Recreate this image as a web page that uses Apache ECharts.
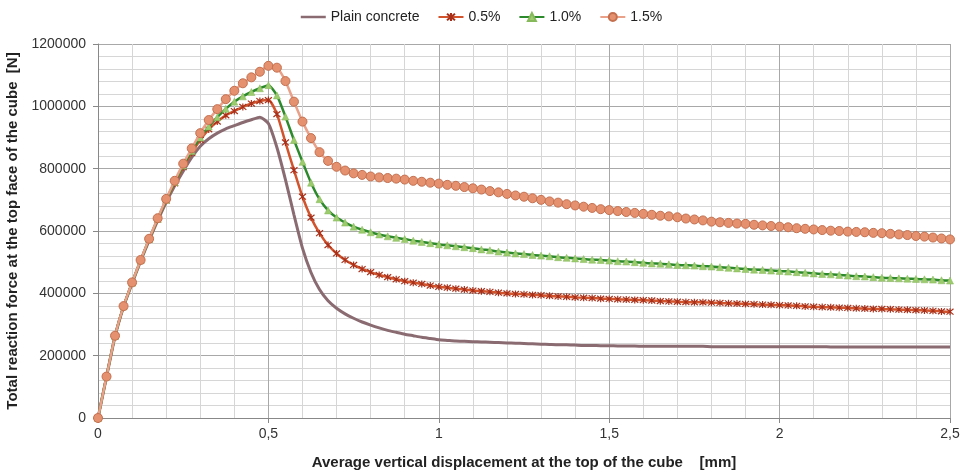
<!DOCTYPE html>
<html><head><meta charset="utf-8">
<script src="https://cdn.jsdelivr.net/npm/echarts@6/dist/echarts.min.js"></script>
<style>html,body{margin:0;padding:0;background:#fff}#c{width:963px;height:473px}</style>
</head><body><div id="c"></div>
<script>
// displacement grid, mm (sample every 0.025 mm)
const displacement = Array.from({length: 101}, (_, i) => +(i * 0.025).toFixed(3));
const seriesNames = ['Plain concrete', '0.5%', '1.0%', '1.5%'];
const xTicks = [0, 0.5, 1, 1.5, 2, 2.5];
const yTicks = [0, 200000, 400000, 600000, 800000, 1000000, 1200000];
// reaction force, kN
const plainKN = [0,132,262,357,432,503,570,633,692,745,792,836,872,896,914,928,938,948,957,965,
 945,868,765,652,545,467,412,376,352,334,320,308,298,289,281,275,269,264,259,255,
 251,249,247,246,245,244,243,242,241,240,239,238,237,236,235,235,234,233,233,232,
 232,231,231,231,230,230,230,230,230,230,230,230,229,229,229,229,229,229,229,229,
 229,229,229,229,229,229,228,228,228,228,228,228,228,228,228,228,228,228,228,228,228];
const p05KN = [0,133,263,358,434,505,573,637,698,753,805,851,892,926,951,971,985,998,1009,1017,
 1020,975,884,795,710,643,593,555,528,507,491,478,468,459,452,445,439,434,430,425,
 421,418,415,412,409,407,405,402,400,398,397,395,394,392,390,389,387,386,385,383,
 382,381,380,379,378,377,375,374,373,372,371,371,370,369,368,367,366,365,364,363,
 362,361,360,358,357,356,355,354,353,352,351,350,350,349,348,347,346,345,344,342,341];
const p10KN = [0,133,263,358,434,506,574,639,700,757,810,857,900,935,965,992,1015,1032,1046,1058,
 1068,1035,967,892,822,755,702,666,643,627,614,604,596,589,583,578,574,569,565,561,
 557,554,551,548,545,541,538,534,531,528,526,523,521,519,516,514,512,510,508,507,
 505,503,502,500,498,496,495,493,491,490,489,487,486,484,482,480,478,476,475,473,
 472,470,468,466,464,462,461,459,457,455,454,452,450,449,448,447,446,445,444,442,441];
const p15KN = [0,133,264,359,435,507,575,641,703,761,816,865,914,956,991,1023,1050,1074,1093,1111,
 1130,1124,1081,1015,951,898,853,825,806,794,785,780,775,772,770,768,765,761,758,755,
 752,748,745,741,737,733,728,724,719,714,710,705,700,695,691,686,682,678,674,670,
 667,664,661,658,655,652,649,647,644,640,637,634,630,628,626,624,623,620,618,616,
 614,612,609,607,605,603,601,600,598,597,596,594,593,591,589,587,584,582,579,576,573];

const toPairs = arr => arr.map((v, i) => [displacement[i], v * 1000]);
const font = 'Liberation Sans, Arial, sans-serif';

const chart = echarts.init(document.getElementById('c'), null, {renderer: 'canvas'});
chart.setOption({
  animation: false,
  backgroundColor: '#ffffff',
  textStyle: {fontFamily: font},
  legend: {
    top: 5, left: 'center', itemGap: 18, itemWidth: 25, itemHeight: 10,
    textStyle: {fontFamily: font, fontSize: 14, color: '#222'},
    data: [
      {name: seriesNames[0], icon: 'path://M0,0L30,0L30,3L0,3Z', itemStyle: {color: '#8a6b72'}},
      seriesNames[1], seriesNames[2], seriesNames[3]
    ]
  },
  grid: {left: 98, right: 13, top: 44, bottom: 55, containLabel: false, outerBoundsMode: 'none'},
  xAxis: {
    type: 'value', min: 0, max: 2.5, interval: 0.5,
    name: 'Average vertical displacement at the top of the cube    [mm]',
    nameLocation: 'middle', nameGap: 37,
    nameTextStyle: {fontFamily: font, fontSize: 15, fontWeight: 'bold', color: '#222'},
    axisLine: {show: true, lineStyle: {color: '#888', width: 1}},
    axisTick: {show: true, length: 5, lineStyle: {color: '#888'}},
    axisLabel: {fontFamily: font, fontSize: 14, color: '#333', margin: 9,
      formatter: v => xTicks.includes(v) ? String(v).replace('.', ',') : ''},
    splitLine: {show: true, lineStyle: {color: '#a8a8a8', width: 1}},
    minorTick: {show: false, splitNumber: 5},
    minorSplitLine: {show: true, lineStyle: {color: '#d6d6d6', width: 1}}
  },
  yAxis: {
    type: 'value', min: 0, max: 1200000, interval: 200000,
    name: 'Total reaction force at the top face of the cube  [N]',
    nameLocation: 'middle', nameGap: 69,
    nameTextStyle: {fontFamily: font, fontSize: 15, fontWeight: 'bold', color: '#222'},
    axisLine: {show: true, lineStyle: {color: '#888', width: 1}},
    axisTick: {show: true, length: 5, lineStyle: {color: '#888'}},
    axisLabel: {fontFamily: font, fontSize: 14, color: '#333', margin: 12,
      formatter: v => yTicks.includes(v) ? String(v) : ''},
    splitLine: {show: true, lineStyle: {color: '#a8a8a8', width: 1}},
    minorTick: {show: false, splitNumber: 5},
    minorSplitLine: {show: true, lineStyle: {color: '#d6d6d6', width: 1}}
  },
  series: [
    {name: seriesNames[0], type: 'line', data: toPairs(plainKN), smooth: 0.2, showSymbol: false, symbol: 'none',
     lineStyle: {color: '#8a6b72', width: 3}, itemStyle: {color: '#8a6b72'}, z: 2},
    {name: seriesNames[1], type: 'line', data: toPairs(p05KN), smooth: 0.2, symbol: 'path://M-1,-1L1,1M1,-1L-1,1M0,-1.2L0,1.2', symbolSize: 7,
     lineStyle: {color: '#d2542c', width: 2.5},
     itemStyle: {color: '#b83a20', borderColor: '#a8301a', borderWidth: 1.2}, z: 3},
    {name: seriesNames[2], type: 'line', data: toPairs(p10KN), smooth: 0.2, symbol: 'triangle', symbolSize: 7,
     lineStyle: {color: '#2c8a2c', width: 2.5},
     itemStyle: {color: '#9ccb6e', borderColor: '#86b95a', borderWidth: 0.5}, z: 4},
    {name: seriesNames[3], type: 'line', data: toPairs(p15KN), smooth: 0.2, symbol: 'circle', symbolSize: 9,
     lineStyle: {color: '#eaa189', width: 2.5},
     itemStyle: {color: '#e5916f', borderColor: '#c4704f', borderWidth: 1}, z: 5}
  ]
});
</script></body></html>
